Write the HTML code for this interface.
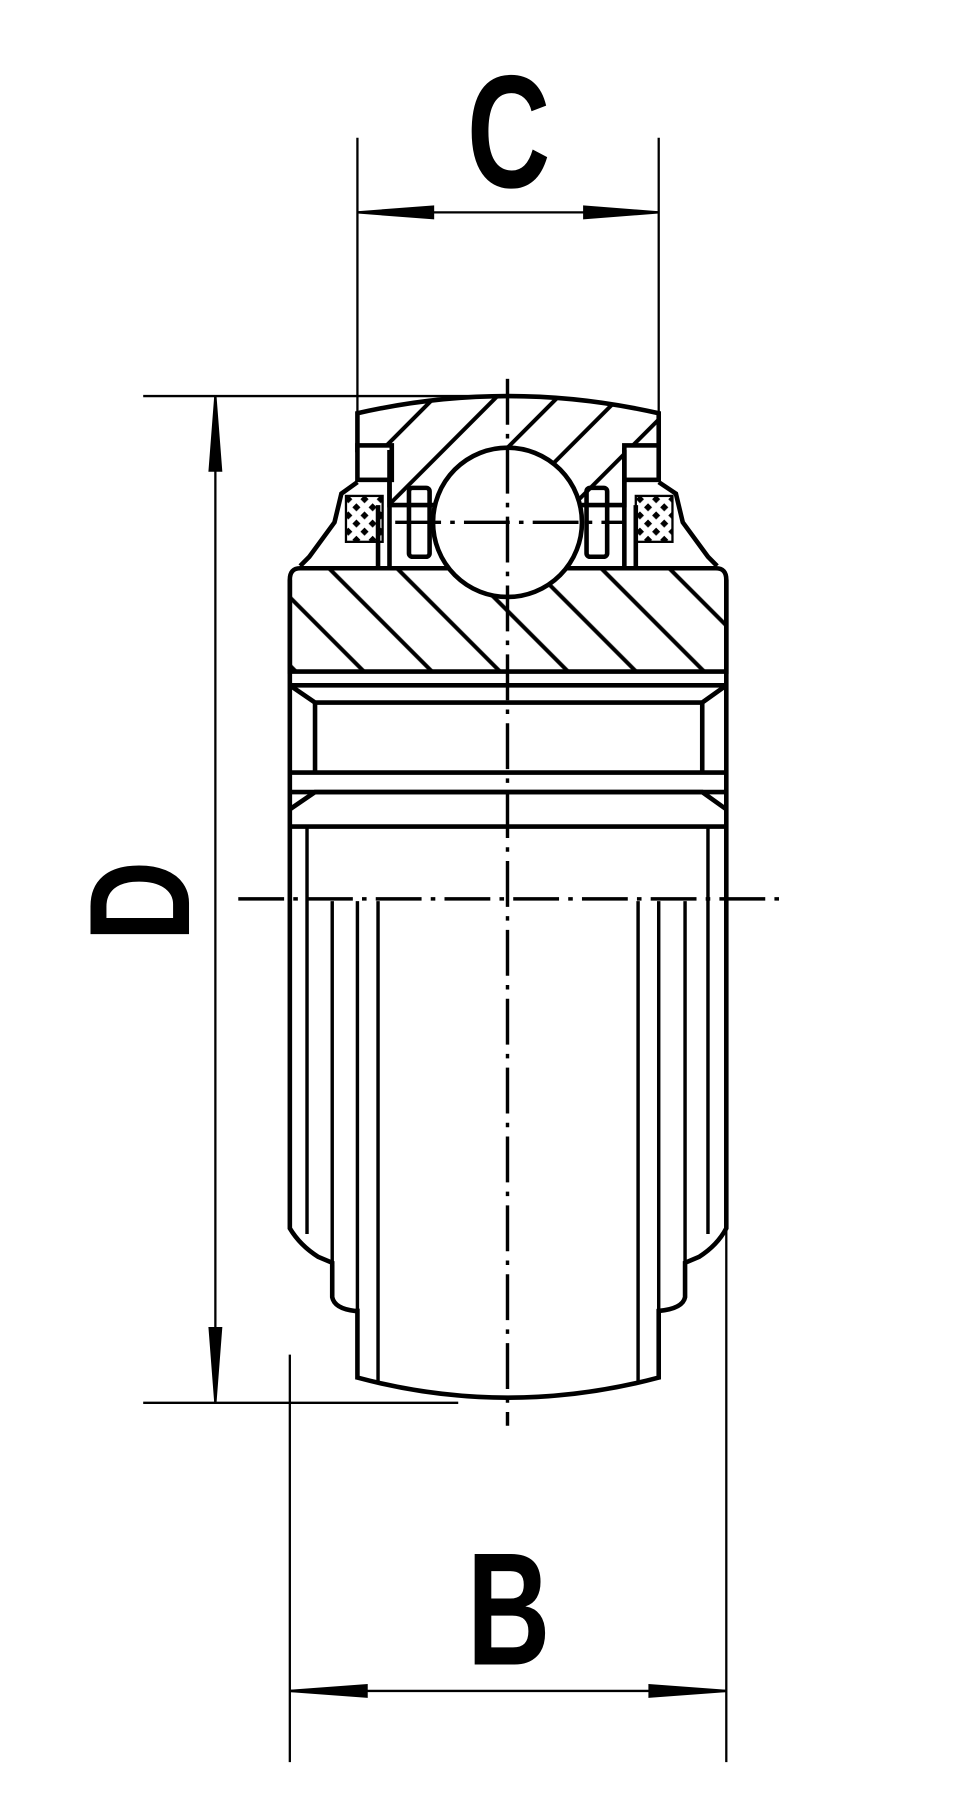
<!DOCTYPE html>
<html><head><style>html,body{margin:0;padding:0;background:#fff}svg{display:block}</style></head>
<body>
<svg width="960" height="1800" viewBox="0 0 838 1568" preserveAspectRatio="none" xmlns="http://www.w3.org/2000/svg">
<defs>
<pattern id="h1" patternUnits="userSpaceOnUse" width="38" height="38" patternTransform="rotate(45)"><line x1="19" y1="0" x2="19" y2="38" stroke="#000" stroke-width="3.5"/></pattern>
<pattern id="h2" patternUnits="userSpaceOnUse" width="42" height="42" patternTransform="rotate(-45)"><line x1="21" y1="0" x2="21" y2="42" stroke="#000" stroke-width="3.5"/></pattern>
<pattern id="h3" patternUnits="userSpaceOnUse" width="10" height="10" patternTransform="rotate(45)"><rect x="0" y="0" width="5" height="5" fill="#000"/></pattern>
</defs>
<rect width="838" height="1568" fill="#fff"/>
<g stroke="#000" fill="none" stroke-width="2">
<line x1="312" y1="120" x2="312" y2="362"/><line x1="575" y1="120" x2="575" y2="362"/>
<line x1="312" y1="185" x2="575" y2="185"/>
<polygon points="312,185 378,180 378,190" fill="#000"/><polygon points="575,185 510,180 510,190" fill="#000"/>
<line x1="125" y1="345" x2="440" y2="345"/><line x1="125" y1="1222" x2="400" y2="1222"/>
<line x1="188" y1="345" x2="188" y2="1222"/>
<polygon points="188,345 183,410 193,410" fill="#000"/><polygon points="188,1222 183,1157 193,1157" fill="#000"/>
<line x1="253" y1="1180" x2="253" y2="1535"/><line x1="634" y1="1060" x2="634" y2="1535"/>
<line x1="253" y1="1473" x2="634" y2="1473"/>
<polygon points="253,1473 320,1468 320,1478" fill="#000"/><polygon points="634,1473 567,1468 567,1478" fill="#000"/>
</g>
<g stroke="#000" stroke-width="4" fill="none">
<path d="M312,360 Q443,330 575,360 L575,392 L545,392 L545,440 L340,440 L340,392 L312,392 Z" fill="url(#h1)"/>
<rect x="312" y="388" width="30" height="30" fill="#fff"/>
<rect x="545" y="388" width="30" height="30" fill="#fff"/>
<path d="M312,420 L298,430 L292,455 L270,485 L262,493"/>
<path d="M575,420 L590,430 L596,455 L618,485 L626,493"/>
<rect x="302" y="432" width="32" height="40" fill="url(#h3)" stroke-width="2"/>
<rect x="555" y="432" width="32" height="40" fill="url(#h3)" stroke-width="2"/>
<line x1="340" y1="392" x2="340" y2="493"/><line x1="545" y1="392" x2="545" y2="493"/>
<rect x="357" y="425" width="18" height="60" rx="3"/><rect x="512" y="425" width="18" height="60" rx="3"/>
<line x1="330" y1="440" x2="330" y2="493"/><line x1="555" y1="440" x2="555" y2="493"/>
<path d="M262,495 L625,495 Q634,495 634,505 L634,585 L253,585 L253,505 Q253,495 262,495 Z" fill="url(#h2)"/>
<circle cx="443" cy="455" r="65" fill="#fff"/>
<line x1="253" y1="597" x2="634" y2="597"/>
<path d="M253,597 L275,612 L613,612 L634,597"/>
<line x1="275" y1="612" x2="275" y2="673"/><line x1="613" y1="612" x2="613" y2="673"/>
<line x1="253" y1="673" x2="634" y2="673"/>
<line x1="253" y1="690" x2="634" y2="690"/>
<path d="M253,705 L275,690 L613,690 L634,705"/>
<line x1="253" y1="720" x2="634" y2="720"/>
<path d="M253,505 L253,1070 Q262,1085 278,1095 L290,1100 L290,1130 Q292,1140 310,1142 L312,1142 L312,1200 Q443,1235 575,1200 L575,1142 Q596,1140 598,1130 L598,1100 L610,1095 Q626,1085 634,1070 L634,505"/>
<line x1="268" y1="720" x2="268" y2="1075" stroke-width="3"/><line x1="618" y1="720" x2="618" y2="1075" stroke-width="3"/>
<line x1="290" y1="785" x2="290" y2="1100" stroke-width="3"/><line x1="598" y1="785" x2="598" y2="1100" stroke-width="3"/>
<line x1="312" y1="785" x2="312" y2="1142" stroke-width="3"/><line x1="575" y1="785" x2="575" y2="1142" stroke-width="3"/>
<line x1="330" y1="785" x2="330" y2="1205" stroke-width="3"/><line x1="557" y1="785" x2="557" y2="1205" stroke-width="3"/>
</g>
<g stroke="#000" stroke-width="3" fill="none" stroke-dasharray="40,8,4,8">
<line x1="443" y1="330" x2="443" y2="1242"/>
<line x1="208" y1="783" x2="680" y2="783"/>
<line x1="345" y1="455" x2="545" y2="455"/>
</g>
<g font-family="Liberation Sans, sans-serif" font-weight="bold" fill="#000" text-anchor="middle">
<text x="0" y="0" font-size="140" transform="translate(444,163) scale(0.72,1)">C</text>
<text x="0" y="0" font-size="140" transform="translate(444,1450) scale(0.72,1)">B</text>
<text x="0" y="0" font-size="125" transform="translate(165,785) rotate(-90) scale(0.78,1)">D</text>
</g>
</svg>
</body></html>
